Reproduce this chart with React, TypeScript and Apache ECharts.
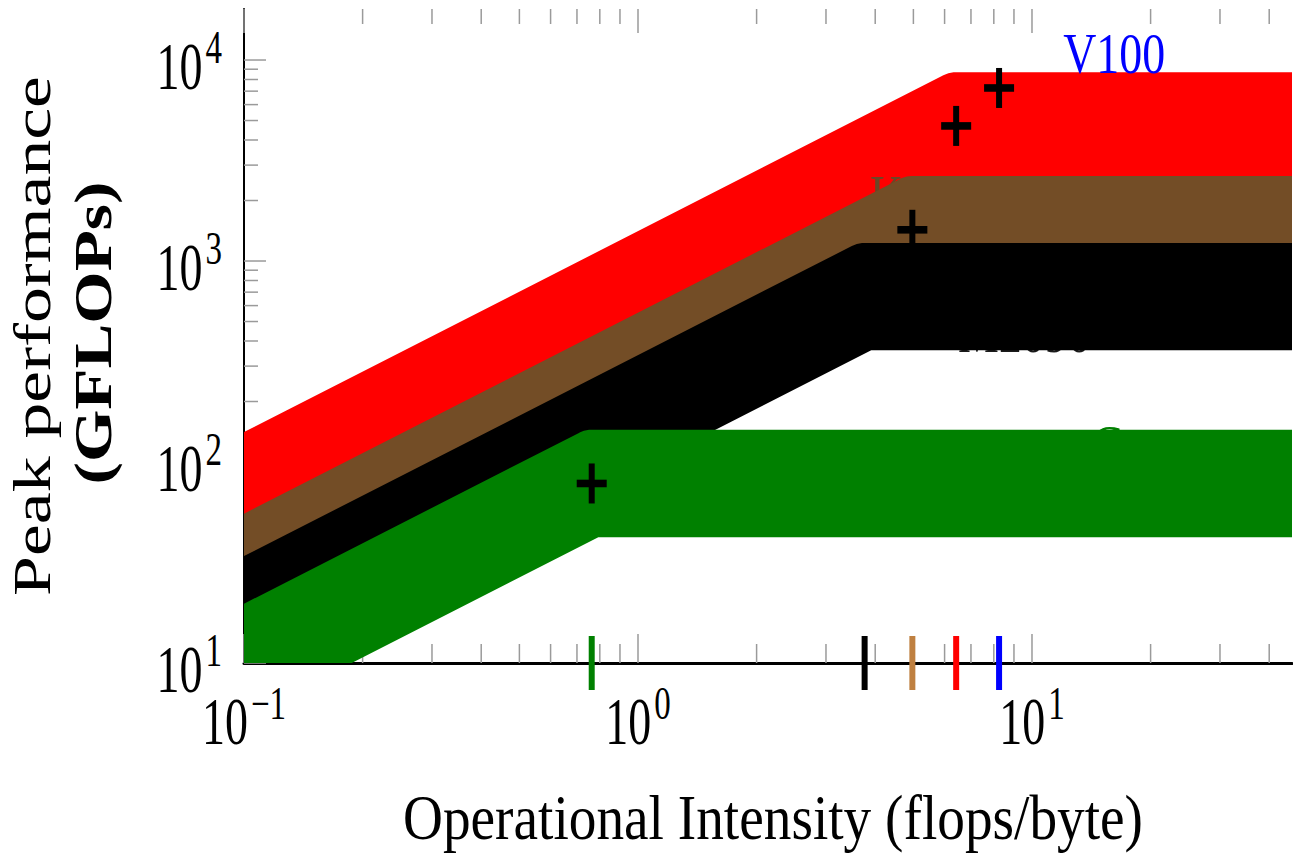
import React, { useEffect, useRef } from 'react';
import * as echarts from 'echarts';

// ---------- data ----------
const devices = ['V100', 'P100', 'K40', 'M2090', 'Core'];
const peakGflops = [7260, 4700, 1430, 665, 78.2];
const ridgeIntensity = [8.25, 6.42, 4.97, 3.76, 0.763];
const roofColors = ['#0000ff', '#ff0000', '#734d26', '#000000', '#008000'];
const ridgeTickColors = ['#0000ff', '#ff0000', '#bf8040', '#000000', '#008000'];
const roofDrawn = [false, true, true, true, true];

const labelDevice = ['V100', 'K40', 'M2090', 'Core'];
const labelColors = ['#0000ff', '#6b4726', '#1a1a1a', '#008000'];
const labelXs = [12.0, 3.88, 6.49, 14.19];
const labelYs = [10790, 2117, 440, 120];

const xTickValues = [0.1, 1, 10];
const xTickExponents = ['\u22121', '0', '1'];
const yTickValues = [10, 100, 1000, 10000];
const yTickExponents = ['1', '2', '3', '4'];
const xMinorTicks = [0.2, 0.3, 0.4, 0.5, 0.6, 0.7, 0.8, 0.9, 2, 3, 4, 5, 6, 7, 8, 9, 20, 30, 40];
const yMinorTicks = [20, 30, 40, 50, 60, 70, 80, 90, 200, 300, 400, 500, 600, 700, 800, 900, 2000, 3000, 4000, 5000, 6000, 7000, 8000, 9000];

const xTitle = 'Operational Intensity (flops/byte)';
const yTitle1 = 'Peak performance';
const yTitle2 = '(GFLOPs)';

// ---------- helpers ----------
const FONT = 'Liberation Serif';
const S = 1.42; // vertical stretch of the figure
const HALF = 37.85; // half stroke width (unstretched px)

function measure(text: string, size: number, weight = 'normal') {
  const c = document.createElement('canvas').getContext('2d')!;
  c.font = `${weight} ${size}px "${FONT}"`;
  return c.measureText(text).width;
}

function roofOutline(a: number[], k: number[], b: number[]) {
  const A = [a[0], a[1] / S], K = [k[0], k[1] / S], B = [b[0], b[1] / S];
  const dx = K[0] - A[0], dy = K[1] - A[1];
  const len = Math.hypot(dx, dy);
  const d1 = [dx / len, dy / len];
  const n1 = [d1[1], -d1[0]];
  const upper: number[][] = [];
  upper.push([A[0] + HALF * n1[0], A[1] + HALF * n1[1]]);
  const a1 = Math.atan2(n1[1], n1[0]);
  const a2 = -Math.PI / 2;
  const steps = 10;
  for (let s = 0; s <= steps; s++) {
    const ang = a1 + ((a2 - a1) * s) / steps;
    upper.push([K[0] + HALF * Math.cos(ang), K[1] + HALF * Math.sin(ang)]);
  }
  upper.push([B[0], B[1] - HALF]);
  const lowStart = [A[0] - HALF * n1[0], A[1] - HALF * n1[1]];
  const t = (K[1] + HALF - lowStart[1]) / d1[1];
  const knee = [lowStart[0] + t * d1[0], K[1] + HALF];
  const lower = [[B[0], B[1] + HALF], knee, lowStart];
  return upper.concat(lower).map((p) => [p[0], p[1] * S]);
}

export default function App() {
  const ref = useRef<HTMLDivElement>(null);

  useEffect(() => {
    if (!ref.current) return;
    const chart = echarts.init(ref.current, undefined, { renderer: 'svg' });

    const baseFont = 46, expFont = 33, gap = 3;
    const baseW = measure('10', baseFont);

    const bandSeries = (i: number, z: number) => ({
      type: 'custom',
      z,
      clip: true,
      silent: true,
      data: [[1, 100]],
      renderItem: (_p: any, api: any) => {
        const peak = peakGflops[i], ridge = ridgeIntensity[i];
        const bw = peak / ridge;
        const a = api.coord([0.02, bw * 0.02]);
        const k = api.coord([ridge, peak]);
        const b = api.coord([300, peak]);
        return { type: 'polygon', shape: { points: roofOutline(a, k, b) }, style: { fill: roofColors[i] } };
      },
    });

    const v100W = measure('V100', 46);
    const labelScaleX = 102 / v100W;
    const labelSeries = (j: number, z: number) => ({
      type: 'custom',
      z,
      clip: false,
      silent: true,
      data: [[labelXs[j], labelYs[j]]],
      renderItem: (_p: any, api: any) => {
        const p = api.coord([api.value(0), api.value(1)]);
        return {
          type: 'text',
          x: p[0],
          y: p[1],
          scaleX: labelScaleX,
          scaleY: 1.25,
          style: {
            text: labelDevice[j],
            fill: labelColors[j],
            fontSize: 46,
            fontFamily: FONT,
            align: 'left',
            verticalAlign: 'middle',
          },
        };
      },
    });

    const tickSeries = {
      type: 'custom',
      z: 1,
      clip: false,
      silent: true,
      data: [[1, 100]],
      renderItem: (params: any, api: any) => {
        const cs = params.coordSys;
        const top = cs.y, bottom = cs.y + cs.height, left = cs.x;
        const children: any[] = [];
        const st = { stroke: '#9a9a9a', lineWidth: 1.5 };
        const addX = (v: number, major: boolean) => {
          const x = api.coord([v, 10])[0];
          children.push({ type: 'line', shape: { x1: x, y1: bottom, x2: x, y2: bottom - (major ? 29 : 19) }, style: st });
          children.push({ type: 'line', shape: { x1: x, y1: top, x2: x, y2: top + (major ? 24 : 15) }, style: st });
        };
        const addY = (v: number, major: boolean) => {
          const y = api.coord([0.1, v])[1];
          children.push({ type: 'line', shape: { x1: left, y1: y, x2: left + (major ? 22 : 14), y2: y }, style: st });
        };
        xMinorTicks.forEach((v) => addX(v, false));
        xTickValues.forEach((v) => addX(v, true));
        yMinorTicks.forEach((v) => addY(v, false));
        yTickValues.forEach((v) => addY(v, true));
        return { type: 'group', children };
      },
    };

    const tickLabelSeries = {
      type: 'custom',
      z: 20,
      clip: false,
      silent: true,
      data: [[1, 100]],
      renderItem: (_params: any, api: any) => {
        const children: any[] = [];
        const mk = (text: string, x: number, y: number, size: number, sy: number, align: string) => ({
          type: 'text',
          x,
          y,
          scaleY: sy,
          style: { text, fill: '#000', fontSize: size, fontFamily: FONT, align, verticalAlign: 'middle' },
        });
        xTickValues.forEach((v, i) => {
          const p = api.coord([v, 10]);
          const expW = measure(xTickExponents[i], expFont);
          const split = p[0] + (baseW - gap - expW) / 2;
          children.push(mk('10', split, p[1] + 58.5, baseFont, 1.45, 'right'));
          children.push(mk(xTickExponents[i], split + gap, p[1] + 40, expFont, 1.4, 'left'));
        });
        yTickValues.forEach((v, i) => {
          const p = api.coord([0.1, v]);
          const expW = measure(yTickExponents[i], expFont);
          const right = p[0] - 22;
          children.push(mk(yTickExponents[i], right, p[1] - 13, expFont, 1.4, 'right'));
          children.push(mk('10', right - expW - gap, p[1] + 6.5, baseFont, 1.45, 'right'));
        });
        return { type: 'group', children };
      },
    };

    const markerSeries = {
      type: 'custom',
      z: 15,
      clip: false,
      silent: true,
      data: devices.map((_, i) => [ridgeIntensity[i], peakGflops[i]]),
      renderItem: (_params: any, api: any) => {
        const p = api.coord([api.value(0), api.value(1)]);
        return {
          type: 'group',
          children: [
            { type: 'rect', shape: { x: p[0] - 15, y: p[1] - 3.8, width: 30, height: 7.6 }, style: { fill: '#000' } },
            { type: 'rect', shape: { x: p[0] - 3, y: p[1] - 20, width: 6, height: 40 }, style: { fill: '#000' } },
          ],
        };
      },
    };

    const ridgeTickSeries = {
      type: 'custom',
      z: 16,
      clip: false,
      silent: true,
      data: devices.map((_, i) => [ridgeIntensity[i], 10]),
      renderItem: (params: any, api: any) => {
        const p = api.coord([api.value(0), api.value(1)]);
        return {
          type: 'rect',
          shape: { x: p[0] - 3, y: p[1] - 27, width: 6, height: 54 },
          style: { fill: ridgeTickColors[params.dataIndex] },
        };
      },
    };

    // draw order: red, K40 label, brown, M2090 label, black, green label, green
    const series: any[] = [tickSeries];
    let z = 3;
    devices.forEach((d, i) => {
      const j = labelDevice.indexOf(d);
      if (j >= 0 && d !== 'V100') series.push(labelSeries(j, z++));
      if (roofDrawn[i]) series.push(bandSeries(i, z++));
    });
    series.push(labelSeries(labelDevice.indexOf('V100'), 14));
    series.push(markerSeries, ridgeTickSeries, tickLabelSeries);

    const xTitleW = measure(xTitle, 48);
    const y1W = measure(yTitle1, 52);
    const y2W = measure(yTitle2, 52, 'bold');

    chart.setOption({
      animation: false,
      grid: { left: 244, top: 9, right: 1, bottom: 191, containLabel: false },
      xAxis: {
        type: 'log',
        logBase: 10,
        min: 0.1,
        max: 45.7,
        axisLine: { show: true, onZero: false, lineStyle: { color: '#000', width: 3 } },
        axisTick: { show: false },
        axisLabel: { show: false },
        splitLine: { show: false },
      },
      yAxis: {
        type: 'log',
        logBase: 10,
        min: 10,
        max: 17940,
        axisLine: { show: true, onZero: false, lineStyle: { color: '#000', width: 2 } },
        axisTick: { show: false },
        axisLabel: { show: false },
        splitLine: { show: false },
      },
      graphic: [
        {
          type: 'text',
          x: 773,
          y: 818,
          scaleX: 740 / xTitleW,
          scaleY: 1.32,
          style: { text: xTitle, fill: '#000', fontSize: 48, fontFamily: FONT, align: 'center', verticalAlign: 'middle' },
        },
        {
          type: 'text',
          x: 33,
          y: 336,
          rotation: Math.PI / 2,
          scaleX: 520 / y1W,
          style: { text: yTitle1, fill: '#000', fontSize: 52, fontFamily: FONT, align: 'center', verticalAlign: 'middle' },
        },
        {
          type: 'text',
          x: 93,
          y: 333,
          rotation: Math.PI / 2,
          scaleX: 303 / y2W,
          style: { text: yTitle2, fill: '#000', fontSize: 52, fontWeight: 'bold', fontFamily: FONT, align: 'center', verticalAlign: 'middle' },
        },
      ],
      series,
    });

    return () => chart.dispose();
  }, []);

  return (
    <div
      ref={ref}
      style={{ position: 'absolute', left: 0, top: 0, width: 1293, height: 854, background: '#fff' }}
    />
  );
}
